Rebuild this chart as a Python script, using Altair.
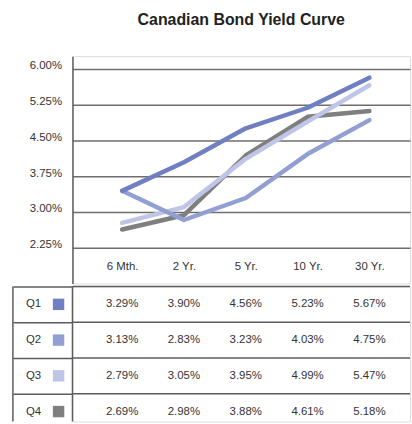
import altair as alt
import pandas as pd

# ---------------- data ----------------
maturities = ["6 Mth.", "2 Yr.", "5 Yr.", "10 Yr.", "30 Yr."]
quarters = ["Q1", "Q2", "Q3", "Q4"]
colors = ["#6f7fc1", "#929fd3", "#bfc5e6", "#7f7f7f"]

# values printed in the table
q1_table = [3.29, 3.90, 4.56, 5.23, 5.67]
q2_table = [3.13, 2.83, 3.23, 4.03, 4.75]
q3_table = [2.79, 3.05, 3.95, 4.99, 5.47]
q4_table = [2.69, 2.98, 3.88, 4.61, 5.18]

# values as drawn by the curves in the picture
q1_curve = [3.44, 4.04, 4.75, 5.18, 5.81]
q2_curve = [3.44, 2.83, 3.29, 4.21, 4.92]
q3_curve = [2.77, 3.10, 4.11, 4.89, 5.65]
q4_curve = [2.63, 2.93, 4.18, 4.99, 5.11]

y_ticks = [2.25, 3.00, 3.75, 4.50, 5.25, 6.00]

table_vals = [q1_table, q2_table, q3_table, q4_table]
curve_vals = [q1_curve, q2_curve, q3_curve, q4_curve]

rows = []
for qi, q in enumerate(quarters):
    for mi, m in enumerate(maturities):
        rows.append({
            "quarter": q,
            "maturity": m,
            "table": table_vals[qi][mi],
            "curve": curve_vals[qi][mi],
            "label": f"{table_vals[qi][mi]:.2f}%",
        })
df = pd.DataFrame(rows)
qdf = pd.DataFrame({"quarter": quarters})
edge_df = pd.DataFrame({"edge": ["left"]})

# ---------------- styling ----------------
FONT = "Liberation Sans"
FS = 11.5
TXT = "#333333"
LINE = "#5c5c5c"

color_scale = alt.Scale(domain=quarters, range=colors)
x_pts = alt.Scale(type="point", domain=maturities, padding=0.73, align=0.55)

x_axis = alt.Axis(title=None, orient="bottom", offset=-17, domain=False, ticks=False,
                  labelPadding=0, labelBaseline="middle", labelAngle=0, labelFont=FONT,
                  labelFontSize=FS, labelColor=TXT, grid=False)
y_axis = alt.Axis(title=None, values=y_ticks, labelExpr="format(datum.value, '.2f') + '%'",
                  grid=True, gridColor="#6e6e6e", gridWidth=1.5, domain=True,
                  domainColor=LINE, domainWidth=1.5, ticks=False, tickSize=0,
                  labelPadding=11, labelBaseline="alphabetic", labelFont=FONT,
                  labelFontSize=FS, labelColor=TXT, minExtent=60, maxExtent=60)

# ---------------- top: yield curves ----------------
line_layers = []
for q in reversed(quarters):
    line_layers.append(
        alt.Chart(df).transform_filter(alt.datum.quarter == q)
        .mark_line(strokeWidth=4.5, strokeCap="round", strokeJoin="round")
        .encode(
            x=alt.X("maturity:N", scale=x_pts, sort=maturities, axis=x_axis),
            y=alt.Y("curve:Q", scale=alt.Scale(domain=[1.5, 6.26], nice=False, zero=False),
                    axis=y_axis),
            color=alt.Color("quarter:N", scale=color_scale, legend=None),
        )
    )
top = alt.layer(*line_layers).properties(
    width=340, height=229,
    title=alt.TitleParams("Canadian Bond Yield Curve", font="Liberation Sans", fontSize=16,
                          fontWeight="bold", color="#222222", anchor="middle",
                          frame="group", offset=28),
)

# ---------------- bottom: data table ----------------
row_scale = alt.Scale(domain=quarters, range=[0, 144], paddingInner=0, paddingOuter=0)
row_axis = alt.Axis(title=None, domain=False, ticks=True, tickSize=60, tickColor=LINE,
                    tickWidth=1.5, bandPosition=0, grid=False, labelAlign="right",
                    labelPadding=-28, labelBaseline="middle",
                    labelFont=FONT, labelFontSize=FS, labelColor=TXT)
row_rule_y = alt.Y("quarter:N", scale=row_scale, axis=row_axis, bandPosition=0)
row_y = alt.Y("quarter:N", scale=row_scale, axis=row_axis)

row_rules = alt.Chart(qdf).mark_rule(color=LINE, strokeWidth=1.5).encode(y=row_rule_y)
left_edge = alt.Chart(edge_df).mark_rule(color=LINE, strokeWidth=1.5).encode(x=alt.value(-60))
divider = alt.Chart(edge_df).mark_rule(color=LINE, strokeWidth=1.5).encode(x=alt.value(0))

key_swatch = alt.Chart(qdf).mark_square(size=132, opacity=1, filled=True).encode(
    x=alt.value(-14),
    y=row_y,
    color=alt.Color("quarter:N", scale=color_scale, legend=None),
)
cell_text = alt.Chart(df).mark_text(font=FONT, fontSize=FS, color=TXT, baseline="middle").encode(
    x=alt.X("maturity:N", scale=x_pts, sort=maturities, axis=None),
    y=row_y,
    text="label:N",
)
bottom = alt.layer(row_rules, left_edge, divider, key_swatch, cell_text).properties(
    width=340, height=136)

chart = alt.vconcat(top, bottom, spacing=0).resolve_scale(
    x="independent", y="independent"
).properties(
    padding={"left": 11, "top": 10, "right": 0, "bottom": 0}
).configure_view(stroke=None).configure(background="white")

chart.save("out.html", embed_options={"renderer": "svg", "actions": False})
